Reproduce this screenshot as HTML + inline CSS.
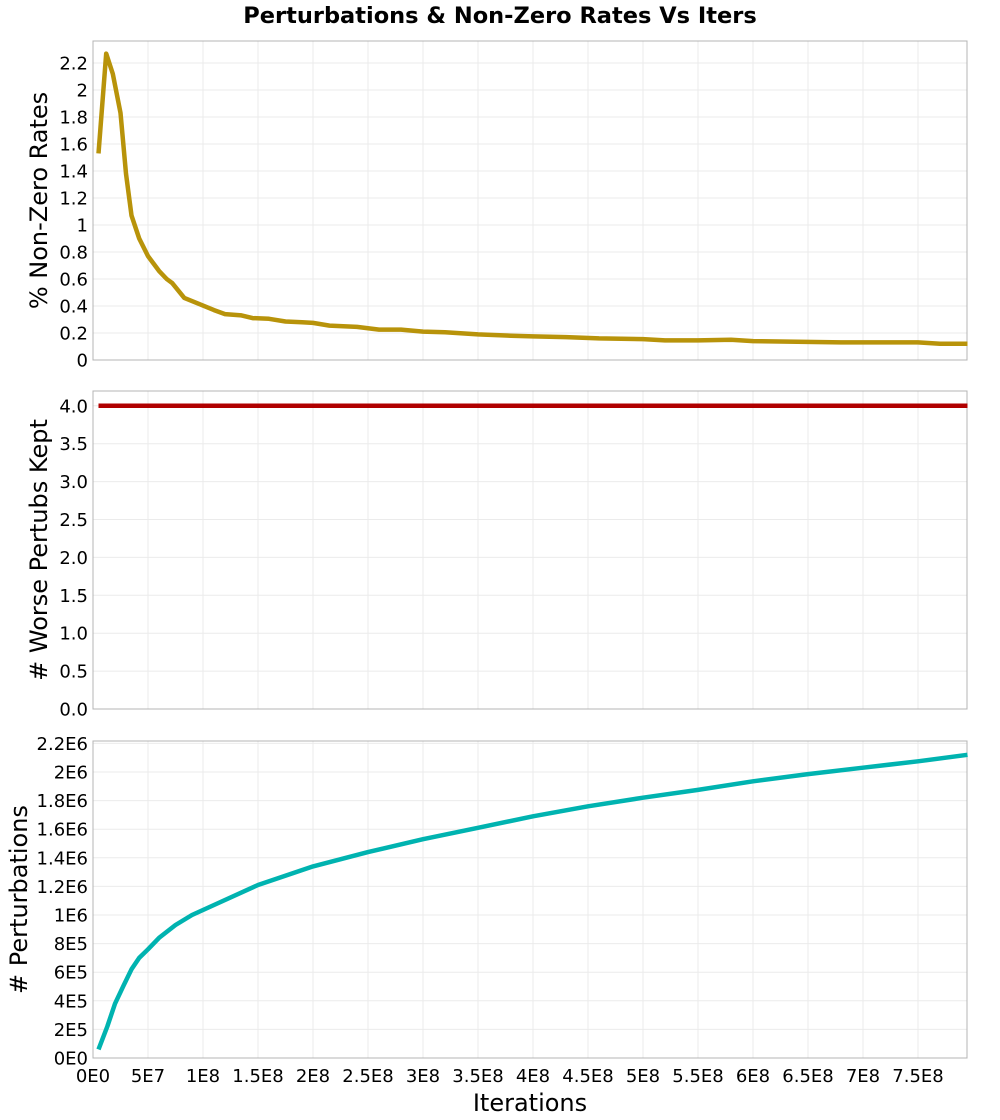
<!DOCTYPE html>
<html><head><meta charset="utf-8"><style>
body{margin:0;background:#fff;}
svg{display:block;font-family:"DejaVu Sans","Liberation Sans",sans-serif;}
</style></head><body>
<svg id="c" width="1000" height="1120"></svg>
<script>
const nzX=[5e6,1.2e7,1.8e7,2.5e7,3.0e7,3.5e7,4.2e7,5e7,6e7,6.7e7,7.2e7,8.3e7,9.5e7,1.1e8,1.2e8,1.35e8,1.45e8,1.6e8,1.75e8,1.9e8,2.0e8,2.15e8,2.4e8,2.6e8,2.8e8,3.0e8,3.2e8,3.5e8,3.8e8,4.0e8,4.3e8,4.6e8,5.0e8,5.2e8,5.5e8,5.8e8,6.0e8,6.4e8,6.8e8,7.2e8,7.5e8,7.7e8,7.95e8];
const nzY=[1.53,2.27,2.12,1.83,1.38,1.07,0.9,0.77,0.66,0.6,0.57,0.46,0.42,0.37,0.34,0.33,0.31,0.305,0.285,0.28,0.275,0.255,0.245,0.225,0.225,0.21,0.205,0.19,0.18,0.175,0.17,0.16,0.155,0.145,0.145,0.15,0.14,0.135,0.13,0.13,0.13,0.12,0.12];
const wkX=[5e6,7.95e8];
const wkY=[4.0,4.0];
const pX=[5e6,1.3e7,2e7,2.8e7,3.5e7,4.2e7,5e7,6e7,7.5e7,9e7,1.1e8,1.5e8,2e8,2.5e8,3e8,3.5e8,4e8,4.5e8,5e8,5.5e8,6e8,6.5e8,7e8,7.5e8,7.95e8];
const pY=[6e4,2.2e5,3.8e5,5.1e5,6.2e5,7.0e5,7.6e5,8.4e5,9.3e5,1.0e6,1.07e6,1.21e6,1.34e6,1.44e6,1.53e6,1.61e6,1.69e6,1.76e6,1.82e6,1.875e6,1.935e6,1.985e6,2.03e6,2.075e6,2.12e6];
const xTicks=[0,5e7,1e8,1.5e8,2e8,2.5e8,3e8,3.5e8,4e8,4.5e8,5e8,5.5e8,6e8,6.5e8,7e8,7.5e8];
const xTickLabels=["0E0","5E7","1E8","1.5E8","2E8","2.5E8","3E8","3.5E8","4E8","4.5E8","5E8","5.5E8","6E8","6.5E8","7E8","7.5E8"];
const t1=[0,0.2,0.4,0.6,0.8,1,1.2,1.4,1.6,1.8,2,2.2];
const t1L=["0","0.2","0.4","0.6","0.8","1","1.2","1.4","1.6","1.8","2","2.2"];
const t2=[0,0.5,1,1.5,2,2.5,3,3.5,4];
const t2L=["0.0","0.5","1.0","1.5","2.0","2.5","3.0","3.5","4.0"];
const t3=[0,2e5,4e5,6e5,8e5,1e6,1.2e6,1.4e6,1.6e6,1.8e6,2e6,2.2e6];
const t3L=["0E0","2E5","4E5","6E5","8E5","1E6","1.2E6","1.4E6","1.6E6","1.8E6","2E6","2.2E6"];

const NS="http://www.w3.org/2000/svg";
const svg=document.getElementById('c');
const L=93,R=967;
const xs=v=>L+v/5e7*55;
function el(tag,attrs,parent){const e=document.createElementNS(NS,tag);for(const k in attrs)e.setAttribute(k,attrs[k]);(parent||svg).appendChild(e);return e;}
const title=el('text',{x:500,y:23,'text-anchor':'middle','font-size':22.5,'font-weight':'bold'});
title.textContent='Perturbations & Non-Zero Rates Vs Iters';



function panel(name,top,bottom,y0px,perUnit,ticks,labels,xd,yd,color,ytitle,ytx,showX){
  const g=el('g',{});
  
  
  const ys=v=>y0px-v*perUnit;
  for(const t of xTicks){const x=xs(t);el('line',{x1:x,x2:x,y1:top,y2:bottom,stroke:'#ebebeb','stroke-width':1},g);}
  ticks.forEach((t,i)=>{const y=ys(t);
    el('line',{x1:L,x2:R,y1:y,y2:y,stroke:'#ebebeb','stroke-width':1},g);
    const tx=el('text',{x:L-5,y:y+6.5,'text-anchor':'end','font-size':18},g);tx.textContent=labels[i];
    
    
  });
  el('rect',{x:L,y:top,width:R-L,height:bottom-top,fill:'none',stroke:'#b4b4b4','stroke-width':1},g);
  const pts=xd.map((x,i)=>xs(x).toFixed(1)+','+ys(yd[i]).toFixed(1)).join(' ');
  const pl=el('polyline',{points:pts,fill:'none',stroke:color,'stroke-width':4.5,'stroke-linejoin':'round'},g);
  
  
  const cy=(top+bottom)/2;
  const yt=el('text',{x:ytx,y:cy,'text-anchor':'middle','font-size':24,transform:`rotate(-90 ${ytx} ${cy})`},g);
  yt.textContent=ytitle;
  
  
  if(showX){
    xTicks.forEach((t,i)=>{const tx=el('text',{x:xs(t),y:bottom+24,'text-anchor':'middle','font-size':18},g);tx.textContent=xTickLabels[i];
      
      });
    const xt=el('text',{x:530,y:1111,'text-anchor':'middle','font-size':24},g);xt.textContent='Iterations';
    
    
  }
}
panel('nonzero-rate-panel',41,360,360,27.0/0.2,t1,t1L,nzX,nzY,'#b8930a','% Non-Zero Rates',47,false);
panel('worse-kept-panel',391,709,709,37.9/0.5,t2,t2L,wkX,wkY,'#b00000','# Worse Pertubs Kept',47,false);
panel('perturbations-panel',741,1058,1058,28.6/2e5,t3,t3L,pX,pY,'#00b3b0','# Perturbations',27,true);
</script>
</body></html>
